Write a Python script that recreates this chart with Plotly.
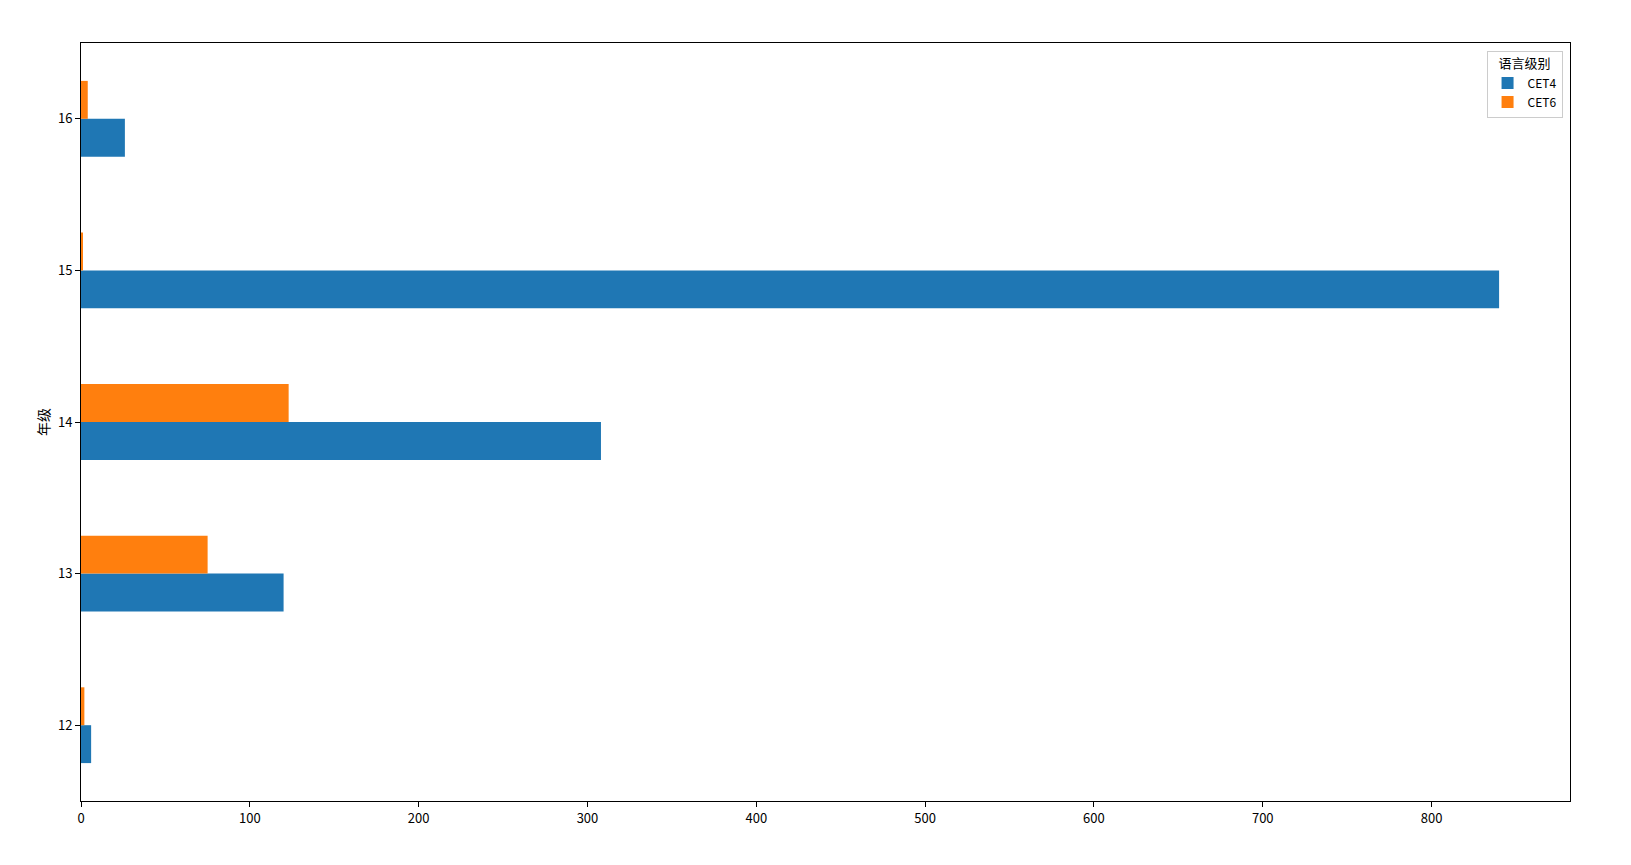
import plotly.graph_objects as go

grades = ["12", "13", "14", "15", "16"]
cet4 = [6, 120, 308, 840, 26]
cet6 = [2, 75, 123, 1, 4]
series_names = ["CET4", "CET6"]
colors = ["#1f77b4", "#ff7f0e"]
x_ticks = [0, 100, 200, 300, 400, 500, 600, 700, 800]

fig = go.Figure()
for name, vals, col in zip(series_names, [cet4, cet6], colors):
    fig.add_trace(go.Bar(y=grades, x=vals, name=name, orientation="h",
                         marker=dict(color=col, line=dict(width=0))))

font_family = "Noto Sans CJK SC, DejaVu Sans, sans-serif"
fig.update_layout(
    width=1615, height=849,
    margin=dict(l=73, r=53, t=35, b=56),
    plot_bgcolor="white", paper_bgcolor="white",
    barmode="group", bargap=0.5, bargroupgap=0,
    font=dict(family=font_family, size=13, color="black"),
    legend=dict(
        title=dict(text="语言级别", font=dict(size=13), side="top center"),
        x=0.995, y=0.99, xanchor="right", yanchor="top",
        bordercolor="#cccccc", borderwidth=1, bgcolor="rgba(255,255,255,0.8)",
        font=dict(size=12), tracegroupgap=0,
    ),
    xaxis=dict(range=[0, 882], tickvals=x_ticks, showgrid=False, zeroline=False,
               showline=True, linecolor="black", linewidth=1, mirror=True,
               ticks="outside", ticklen=5, tickcolor="black", tickfont=dict(size=13)),
    yaxis=dict(type="category", categoryorder="array", categoryarray=grades,
               range=[-0.5, 4.5], showgrid=False, zeroline=False,
               showline=True, linecolor="black", linewidth=1, mirror=True,
               ticks="outside", ticklen=5, tickcolor="black", tickfont=dict(size=13),
               title=dict(text="年级", font=dict(size=14), standoff=5)),
)

fig.write_html("out.html")
